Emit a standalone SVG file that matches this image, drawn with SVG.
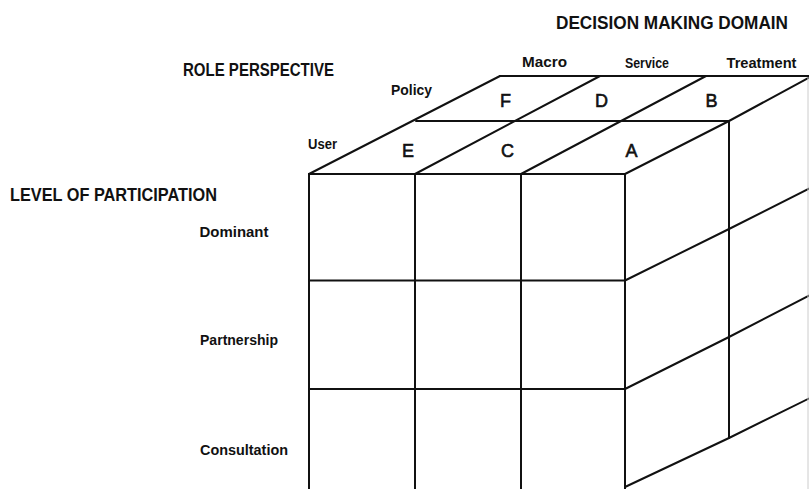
<svg xmlns="http://www.w3.org/2000/svg" width="809" height="489" viewBox="0 0 809 489">
<style>
.ln{fill:none;stroke:#111;stroke-width:2;stroke-linejoin:round;stroke-linecap:round}
.faint{fill:none;stroke:#ccc;stroke-width:1}
text{font-family:"Liberation Sans",Arial,sans-serif;font-weight:bold;fill:#111}
.h{font-size:18px}
.s{font-size:14px}
.l{font-size:18px;text-anchor:middle;font-weight:normal;stroke:#111;stroke-width:0.6}
</style>
<rect width="809" height="489" fill="#fff"/>
<g id="headings">
<text class="h" x="556" y="29" textLength="232" lengthAdjust="spacingAndGlyphs">DECISION MAKING DOMAIN</text>
<text class="h" x="183" y="75.5" textLength="151" lengthAdjust="spacingAndGlyphs">ROLE PERSPECTIVE</text>
<text class="h" x="10" y="200.5" textLength="207" lengthAdjust="spacingAndGlyphs">LEVEL OF PARTICIPATION</text>
</g>
<g id="axis-labels">
<text class="s" x="522" y="67" textLength="45" lengthAdjust="spacingAndGlyphs">Macro</text>
<text class="s" x="625" y="67.5" textLength="44" lengthAdjust="spacingAndGlyphs">Service</text>
<text class="s" x="726.5" y="67.5" textLength="70" lengthAdjust="spacingAndGlyphs">Treatment</text>
<text class="s" x="391" y="95" textLength="41" lengthAdjust="spacingAndGlyphs">Policy</text>
<text class="s" x="308" y="149" textLength="29" lengthAdjust="spacingAndGlyphs">User</text>
<text class="s" x="199.5" y="236.7" textLength="69" lengthAdjust="spacingAndGlyphs">Dominant</text>
<text class="s" x="200" y="345" textLength="78" lengthAdjust="spacingAndGlyphs">Partnership</text>
<text class="s" x="200" y="455" textLength="88" lengthAdjust="spacingAndGlyphs">Consultation</text>
</g>
<g id="cell-letters">
<text class="l" x="505.5" y="106.5">F</text>
<text class="l" x="601.5" y="106.5">D</text>
<text class="l" x="711.5" y="106.5">B</text>
<text class="l" x="408" y="156.5">E</text>
<text class="l" x="507.5" y="156.5">C</text>
<text class="l" x="631.5" y="156.5">A</text>
</g>
<g id="front-face">
<line class="ln" x1="309" y1="174" x2="309" y2="490"/>
<line class="ln" x1="415" y1="174" x2="415" y2="490"/>
<line class="ln" x1="521" y1="174" x2="521" y2="490"/>
<line class="ln" x1="625" y1="174" x2="625" y2="490"/>
<line class="ln" x1="309" y1="174" x2="625" y2="174"/>
<line class="ln" x1="309" y1="280.5" x2="625" y2="280.5"/>
<line class="ln" x1="309" y1="389" x2="625" y2="389"/>
</g>
<g id="top-face">
<line class="ln" x1="416" y1="121" x2="729" y2="121"/>
<line class="ln" x1="500" y1="76" x2="810" y2="76"/>
<line class="ln" x1="309" y1="174" x2="500" y2="76"/>
<line class="ln" x1="415" y1="174" x2="600" y2="76"/>
<line class="ln" x1="521" y1="174" x2="706" y2="76"/>
<polyline class="ln" points="625,174 729,121 810,77"/>
</g>
<g id="right-face">
<line class="ln" x1="729" y1="121" x2="729" y2="438"/>
<polyline class="ln" points="625,280.5 729,229 810,188"/>
<polyline class="ln" points="625,389 729,337 810,295"/>
<polyline class="ln" points="625,487 729,438 810,398"/>
<line class="faint" x1="808" y1="77" x2="808" y2="489"/>
</g>
</svg>
